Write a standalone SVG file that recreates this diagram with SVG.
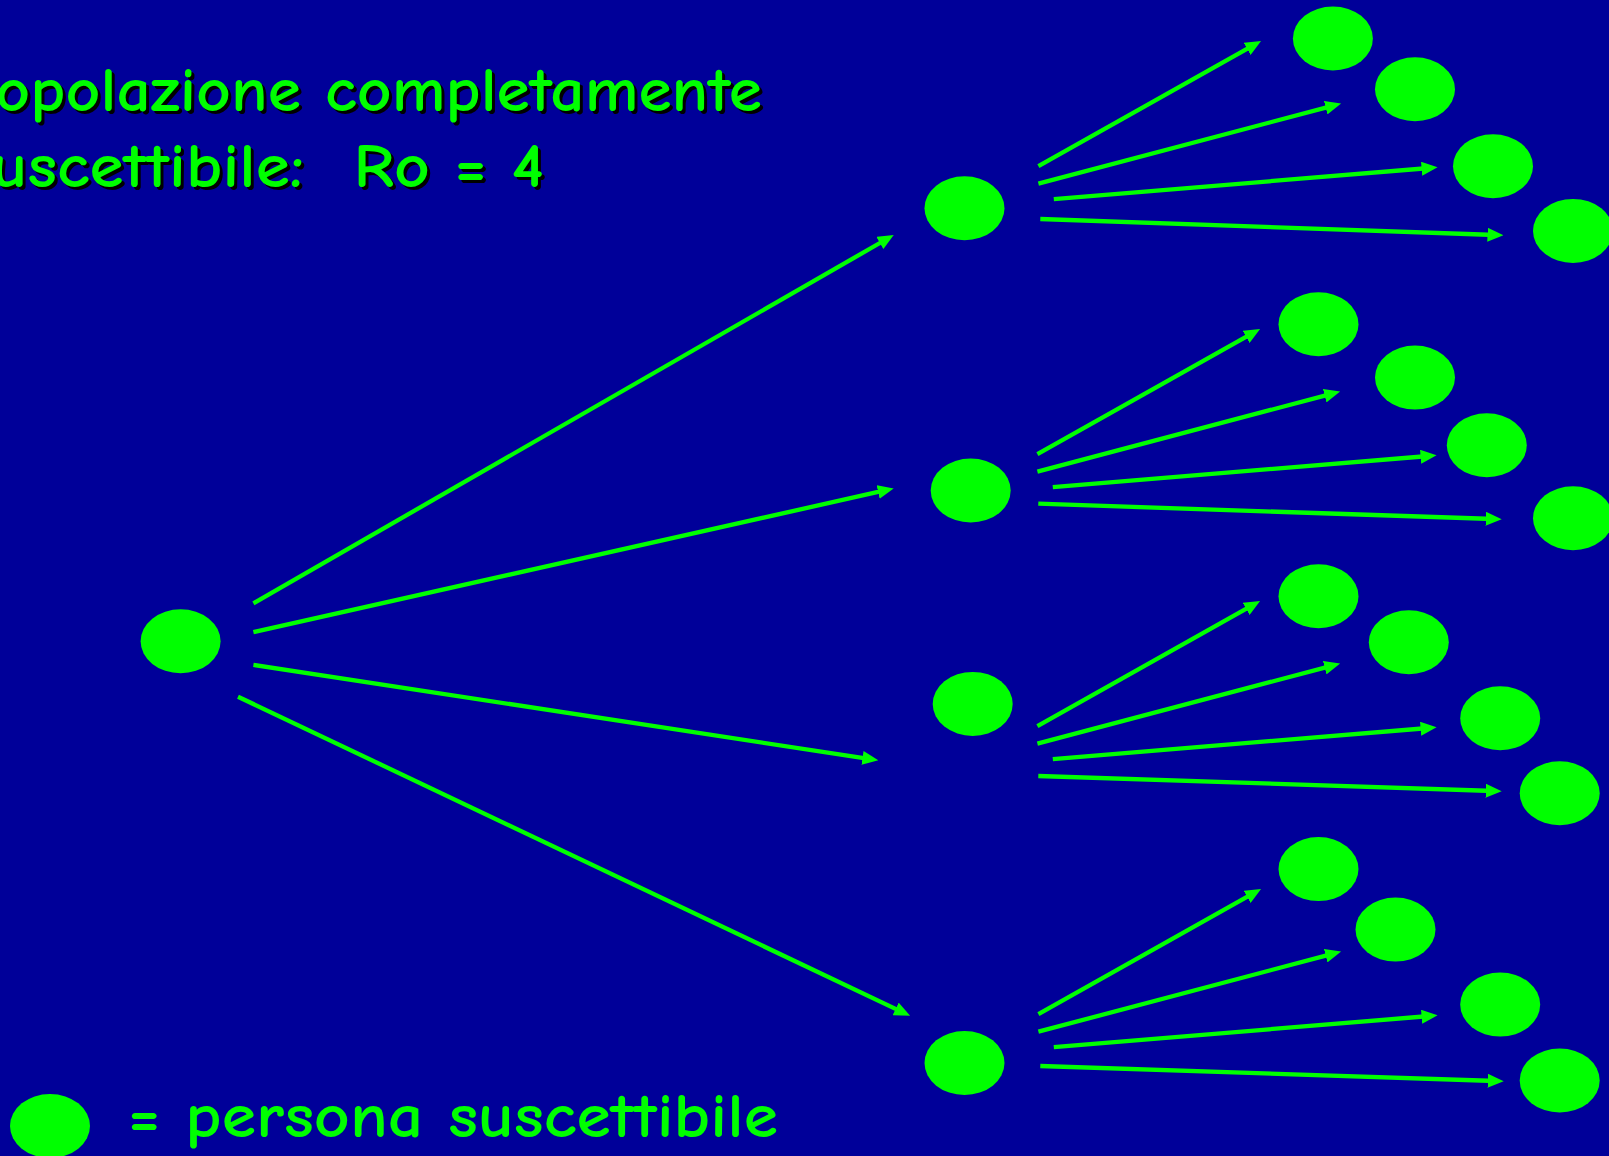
<svg xmlns="http://www.w3.org/2000/svg" width="1609" height="1156" viewBox="0 0 1609 1156">
<style>
.bg{fill:#000099}
.node{fill:#00ff00}
.arr{stroke:#00ff00;stroke-width:4.3;fill:none;marker-end:url(#ah)}
.t{font-family:'Comic Sans MS','Comic Neue','Open Sans','DejaVu Sans',sans-serif;font-size:63px;font-weight:600;font-variant-ligatures:none;fill:#00ff00}
.sh{fill:#000000}
</style>
<defs>
<marker id="ah" viewBox="0 0 16 14" refX="8" refY="7" markerWidth="16" markerHeight="14" markerUnits="userSpaceOnUse" orient="auto">
<path d="M0,0 L16,7 L0,14 z" fill="#00ff00"/>
</marker>
</defs>
<rect class="bg" x="0" y="0" width="1609" height="1156"/>

<g id="title">
<text class="t sh" x="-39" y="114" textLength="804" lengthAdjust="spacingAndGlyphs">Popolazione completamente</text>
<text class="t" x="-42" y="111" textLength="804" lengthAdjust="spacingAndGlyphs">Popolazione completamente</text>
<text class="t sh" x="-35" y="190" textLength="582" lengthAdjust="spacingAndGlyphs" xml:space="preserve">suscettibile:  Ro = 4</text>
<text class="t" x="-38" y="187" textLength="582" lengthAdjust="spacingAndGlyphs" xml:space="preserve">suscettibile:  Ro = 4</text>
</g>

<g id="connectors">
<line class="arr" x1="253.4" y1="603.3" x2="886.8" y2="239.0"/>
<line class="arr" x1="253.4" y1="632.1" x2="885.9" y2="490.2"/>
<line class="arr" x1="253.4" y1="664.9" x2="870.4" y2="759.1"/>
<line class="arr" x1="238" y1="696.7" x2="902.9" y2="1012.4"/>
<g id="fanA">
<line class="arr" x1="1038.4" y1="166.2" x2="1254.1" y2="44.9"/>
<line class="arr" x1="1038.4" y1="183.7" x2="1333.4" y2="105.6"/>
<line class="arr" x1="1053.8" y1="199.1" x2="1429.6" y2="168.0"/>
<line class="arr" x1="1040.3" y1="219" x2="1495.5" y2="235"/>
</g>
<g id="fanB">
<g transform="translate(-1,288)">
<line class="arr" x1="1038.4" y1="166.2" x2="1254.1" y2="44.9"/>
<line class="arr" x1="1038.4" y1="183.7" x2="1333.4" y2="105.6"/>
<line class="arr" x1="1053.8" y1="199.1" x2="1429.6" y2="168.0"/>
</g>
<line class="arr" x1="1038.3" y1="503.7" x2="1493.7" y2="519.0"/>
</g>
<g id="fanC">
<g transform="translate(-1,560)">
<line class="arr" x1="1038.4" y1="166.2" x2="1254.1" y2="44.9"/>
<line class="arr" x1="1038.4" y1="183.7" x2="1333.4" y2="105.6"/>
<line class="arr" x1="1053.8" y1="199.1" x2="1429.6" y2="168.0"/>
</g>
<line class="arr" x1="1038.3" y1="776" x2="1493.7" y2="791.0"/>
</g>
<g id="fanD">
<g transform="translate(0,848)">
<line class="arr" x1="1038.4" y1="166.2" x2="1254.1" y2="44.9"/>
<line class="arr" x1="1038.4" y1="183.7" x2="1333.4" y2="105.6"/>
<line class="arr" x1="1053.8" y1="199.1" x2="1429.6" y2="168.0"/>
</g>
<line class="arr" x1="1040.3" y1="1066" x2="1495.7" y2="1081.0"/>
</g>
</g>

<g id="root"><ellipse class="node" cx="180.6" cy="641.3" rx="40" ry="32"/></g>
<g id="n1"><ellipse class="node" cx="964.5" cy="208.3" rx="40" ry="32"/></g>
<g id="n2"><ellipse class="node" cx="970.7" cy="490.5" rx="40" ry="32"/></g>
<g id="n3"><ellipse class="node" cx="972.7" cy="703.9" rx="40" ry="32"/></g>
<g id="n4"><ellipse class="node" cx="964.5" cy="1063" rx="40" ry="32"/></g>

<g id="n1a"><ellipse class="node" cx="1332.9" cy="38.5" rx="40" ry="32"/></g>
<g id="n1b"><ellipse class="node" cx="1415" cy="89.3" rx="40" ry="32"/></g>
<g id="n1c"><ellipse class="node" cx="1493" cy="166.2" rx="40" ry="32"/></g>
<g id="n1d"><ellipse class="node" cx="1573" cy="230.9" rx="40" ry="32"/></g>

<g id="n2a"><ellipse class="node" cx="1318.5" cy="324.2" rx="40" ry="32"/></g>
<g id="n2b"><ellipse class="node" cx="1415" cy="377.6" rx="40" ry="32"/></g>
<g id="n2c"><ellipse class="node" cx="1486.8" cy="445.3" rx="40" ry="32"/></g>
<g id="n2d"><ellipse class="node" cx="1573" cy="518.2" rx="40" ry="32"/></g>

<g id="n3a"><ellipse class="node" cx="1318.5" cy="596.2" rx="40" ry="32"/></g>
<g id="n3b"><ellipse class="node" cx="1408.8" cy="642.3" rx="40" ry="32"/></g>
<g id="n3c"><ellipse class="node" cx="1500.2" cy="718.3" rx="40" ry="32"/></g>
<g id="n3d"><ellipse class="node" cx="1559.7" cy="793.2" rx="40" ry="32"/></g>

<g id="n4a"><ellipse class="node" cx="1318.5" cy="869.1" rx="40" ry="32"/></g>
<g id="n4b"><ellipse class="node" cx="1395.5" cy="929.6" rx="40" ry="32"/></g>
<g id="n4c"><ellipse class="node" cx="1500.2" cy="1004.6" rx="40" ry="32"/></g>
<g id="n4d"><ellipse class="node" cx="1559.7" cy="1080.5" rx="40" ry="32"/></g>

<g id="legend">
<ellipse class="node" cx="50" cy="1126" rx="40" ry="32"/>
<text class="t" x="128" y="1137" textLength="650" lengthAdjust="spacingAndGlyphs">= persona suscettibile</text>
</g>
</svg>
